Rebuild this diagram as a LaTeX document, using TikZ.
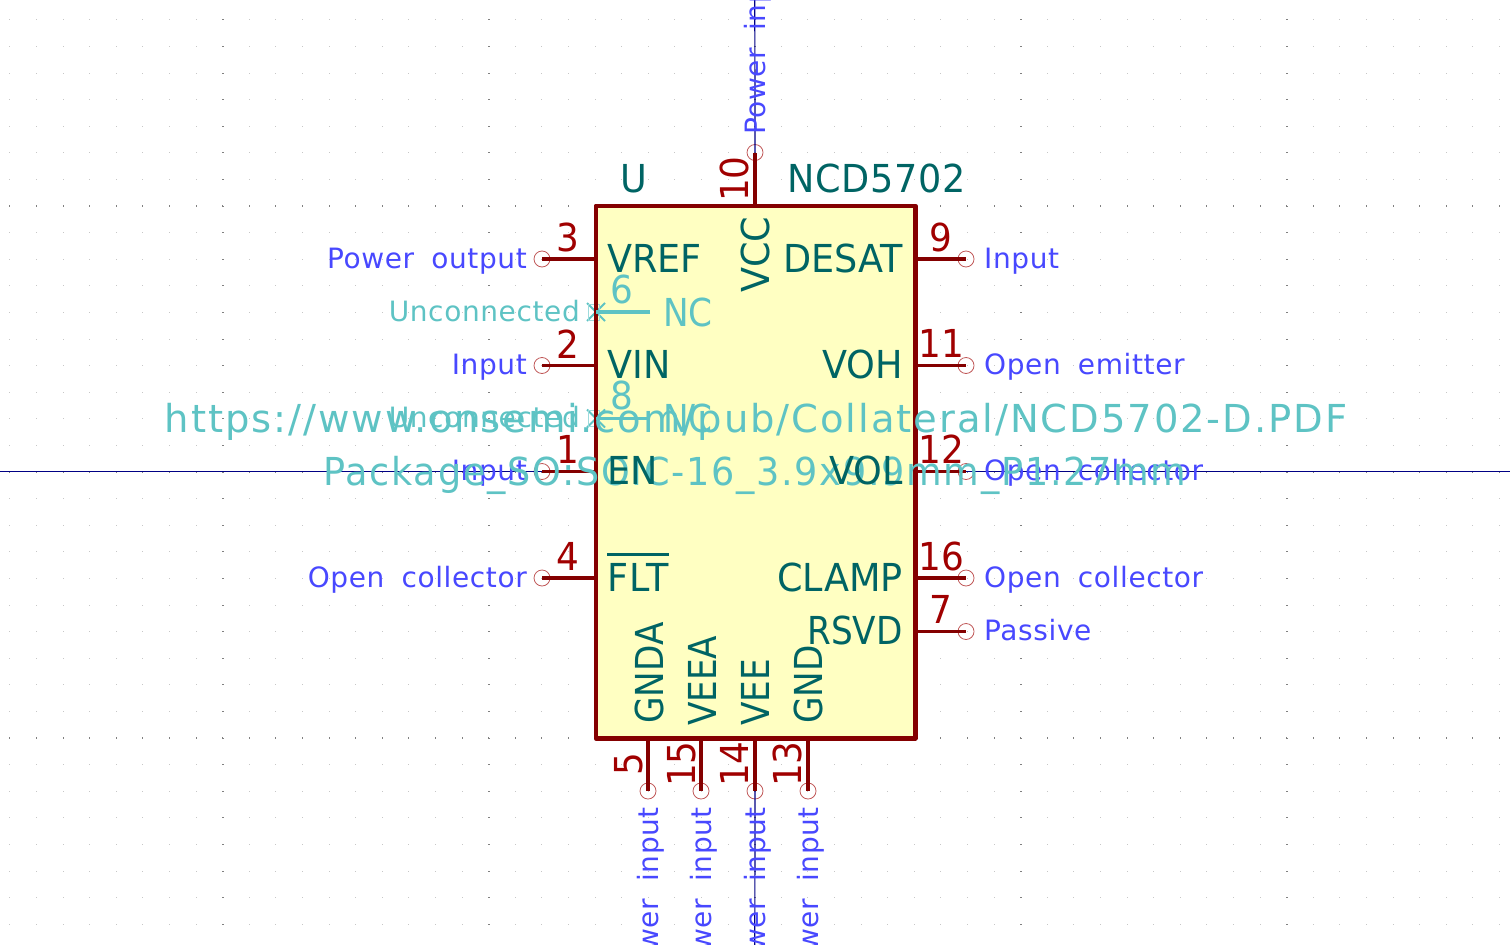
\documentclass[tikz,border=0pt]{standalone}
\usepackage{fontspec}
\setmainfont{DejaVu Sans}
\newfontfamily\namefont[FakeStretch=0.95]{DejaVu Sans}
\newfontfamily\narrowfont[FakeStretch=0.89]{DejaVu Sans}
\newfontfamily\numfont[FakeStretch=0.93]{DejaVu Sans}
\newfontfamily\typefont[LetterSpace=2.2,WordSpace=1.8]{DejaVu Sans}
\newfontfamily\urlfont[LetterSpace=5]{DejaVu Sans}
\newfontfamily\packagefont[FakeStretch=0.95,LetterSpace=4.5]{DejaVu Sans}
\definecolor{bodyred}{HTML}{840000}
\definecolor{numred}{HTML}{A00000}
\definecolor{bodyfill}{HTML}{FFFFC2}
\definecolor{nameteal}{HTML}{006464}
\definecolor{typeblue}{HTML}{4848FF}
\definecolor{hiddencyan}{HTML}{5EC3C4}
\definecolor{wirenavy}{HTML}{000084}
\definecolor{endred}{HTML}{C05858}
\tikzset{
  pinname/.style={inner sep=0, text=nameteal, font={\namefont\fontsize{38.5}{38.5}\selectfont}},
  narrowname/.style={pinname, font={\narrowfont\fontsize{38.5}{38.5}\selectfont}},
  pinnum/.style={inner sep=0, text=numred, font={\numfont\fontsize{38.5}{38.5}\selectfont}},
  pintype/.style={inner sep=0, text=typeblue, font={\typefont\fontsize{28}{28}\selectfont}},
  hiddenname/.style={narrowname, text=hiddencyan},
  hiddennum/.style={pinnum, text=hiddencyan},
  hiddentype/.style={pintype, text=hiddencyan},
  urltext/.style={inner sep=0, text=hiddencyan, font={\urlfont\fontsize{38.5}{38.5}\selectfont}},
  packagetext/.style={inner sep=0, text=hiddencyan, font={\packagefont\fontsize{38.5}{38.5}\selectfont}},
  pinline/.style={draw=bodyred, line width=3.2pt},
  hiddenline/.style={draw=hiddencyan, line width=3.2pt},
  crossline/.style={draw=hiddencyan, line width=2pt},
  wireline/.style={draw=wirenavy, line width=1.2pt},
  pinend/.style={circle, draw=endred, line width=0.8pt, minimum size=16pt, inner sep=0},
  griddot/.style={fill=black!22},
  majordot/.style={fill=black!50},
}
\begin{document}
\begin{tikzpicture}[x=1pt, y=-1pt, line join=round]
\useasboundingbox (0,0) rectangle (1510,945);
\clip (0,0) rectangle (1510,945);
\foreach \i in {0,...,56} {
  \foreach \j in {0,...,35} {
    \fill[griddot] (9.4+26.6*\i,19.4+26.6*\j) rectangle ++(1,1);
  }
}
\foreach \i in {0,...,56} {
  \foreach \j in {7,17,27} {
    \fill[majordot] (9.4+26.6*\i,18.9+26.6*\j) rectangle ++(1,2);
  }
}
\foreach \i in {8,18,28,38,48} {
  \foreach \j in {0,...,35} {
    \fill[majordot] (8.9+26.6*\i,19.4+26.6*\j) rectangle ++(2,1);
  }
}
\coordinate (wireleft) at (0,471.5);
\coordinate (wireright) at (1510,471.5);
\coordinate (wiretop) at (754.8,0);
\coordinate (wirebottom) at (754.8,945);
\node[fill=bodyfill, minimum width=319pt, minimum height=532pt, inner sep=0] (body) at (755.5,472) {};

\node[pinend] (end3) at (542,259) {};
\node[pinend] (end2) at (542,365.5) {};
\node[pinend] (end1) at (542,471.5) {};
\node[pinend] (end4) at (542,578) {};
\node[pinend] (end9) at (966,259) {};
\node[pinend] (end11) at (966,365.5) {};
\node[pinend] (end12) at (966,471.5) {};
\node[pinend] (end16) at (966,578) {};
\node[pinend] (end7) at (966,631.5) {};
\node[pinend] (end10) at (755,152.5) {};
\node[pinend] (end5) at (648,791) {};
\node[pinend] (end15) at (701,791) {};
\node[pinend] (end14) at (755,791) {};
\node[pinend] (end13) at (808,791) {};

\draw[wireline] (wireleft) -- (end1.center);
\draw[wireline] (wireright) -- (end12.center);
\draw[wireline] (wiretop) -- (end10.center);
\draw[wireline] (wirebottom) -- (end14.center);

\coordinate (nc6) at (596,312);
\coordinate (nc8) at (596,418.5);
\draw[crossline] ([shift={(-9,-9)}]nc6) -- ([shift={(9,9)}]nc6);
\draw[crossline] ([shift={(-9,9)}]nc6) -- ([shift={(9,-9)}]nc6);
\draw[crossline] ([shift={(-9,-9)}]nc8) -- ([shift={(9,9)}]nc8);
\draw[crossline] ([shift={(-9,9)}]nc8) -- ([shift={(9,-9)}]nc8);
\draw[hiddencyan!60, line width=0.7pt] ([shift={(-8,-8)}]nc6) rectangle ([shift={(3,8)}]nc6);
\draw[hiddencyan!60, line width=0.7pt] ([shift={(-8,-8)}]nc8) rectangle ([shift={(3,8)}]nc8);
\draw[bodyred, line width=4.6pt] (body.north west) rectangle (body.south east);
\draw[hiddenline] (650,312) -- (nc6);
\draw[hiddenline] (650,418.5) -- (nc8);

\draw[pinline] (body.west |- end3) -- (end3.center);
\draw[pinline] (body.west |- end2) -- (end2.center);
\draw[pinline] (body.west |- end1) -- (end1.center);
\draw[pinline] (body.west |- end4) -- (end4.center);
\draw[pinline] (body.east |- end9) -- (end9.center);
\draw[pinline] (body.east |- end11) -- (end11.center);
\draw[pinline] (body.east |- end12) -- (end12.center);
\draw[pinline] (body.east |- end16) -- (end16.center);
\draw[pinline] (body.east |- end7) -- (end7.center);
\draw[pinline] (body.north -| end10) -- (end10.center);
\draw[pinline] (body.south -| end5) -- (end5.center);
\draw[pinline] (body.south -| end15) -- (end15.center);
\draw[pinline] (body.south -| end14) -- (end14.center);
\draw[pinline] (body.south -| end13) -- (end13.center);

\node[pintype, anchor=base east] (type3) at (527,268) {Power output};
\node[pintype, anchor=base east] (type2) at (527,374.5) {Input};
\node[pintype, anchor=base east] (type1) at (527,480.5) {Input};
\node[pintype, anchor=base east] (type4) at (527,587) {Open collector};
\node[pintype, anchor=base west] (type9) at (984,268) {Input};
\node[pintype, anchor=base west] (type11) at (984,374.5) {Open emitter};
\node[pintype, anchor=base west] (type12) at (984,480.5) {Open collector};
\node[pintype, anchor=base west] (type16) at (984,587) {Open collector};
\node[pintype, anchor=base west] (type7) at (984,640.5) {Passive};
\node[pintype, anchor=base west, rotate=90] (type10) at (765,135) {Power input};
\node[pintype, anchor=base east, rotate=90] (type5) at (658,807) {Power input};
\node[pintype, anchor=base east, rotate=90] (type15) at (711,807) {Power input};
\node[pintype, anchor=base east, rotate=90] (type14) at (765,807) {Power input};
\node[pintype, anchor=base east, rotate=90] (type13) at (818,807) {Power input};

\node[pinnum, anchor=base east] (num3) at (579,251) {3};
\node[pinnum, anchor=base east] (num2) at (579,358) {2};
\node[pinnum, anchor=base east] (num1) at (579,463) {1};
\node[pinnum, anchor=base east] (num4) at (579,570) {4};
\node[pinnum, anchor=base] (num9) at (941,251) {9};
\node[pinnum, anchor=base] (num11) at (941,357) {11};
\node[pinnum, anchor=base] (num12) at (941,463) {12};
\node[pinnum, anchor=base] (num16) at (941,570) {16};
\node[pinnum, anchor=base] (num7) at (941,623) {7};
\node[pinnum, anchor=base, rotate=90] (num10) at (748,179) {10};
\node[pinnum, anchor=base, rotate=90] (num5) at (642,764) {5};
\node[pinnum, anchor=base, rotate=90] (num15) at (695,764) {15};
\node[pinnum, anchor=base, rotate=90] (num14) at (748,764) {14};
\node[pinnum, anchor=base, rotate=90] (num13) at (801,764) {13};

\node[hiddentype, anchor=base east] (type6) at (580,321) {Unconnected};
\node[hiddentype, anchor=base east] (type8) at (580,427.5) {Unconnected};
\node[hiddennum, anchor=base] (num6) at (622,303) {6};
\node[hiddennum, anchor=base] (num8) at (622,409.5) {8};
\node[hiddenname, anchor=base west] (name6) at (663,326) {NC};
\node[hiddenname, anchor=base west] (name8) at (663,432.5) {NC};

\node[urltext, anchor=base] (urlfield) at (756,432) {https://www.onsemi.com/pub/Collateral/NCD5702-D.PDF};
\node[packagetext, anchor=base] (packagefield) at (755,485) {Package\_SO:SOIC-16\_3.9x9.9mm\_P1.27mm};

\node[pinname, anchor=base west] (refname) at (620,192) {U};
\node[pinname, anchor=base west] (valuename) at (787,192) {\addfontfeature{LetterSpace=1.8}NCD5702};
\node[pinname, anchor=base west] (namevref) at (607,272) {VREF};
\node[pinname, anchor=base west] (namevin) at (607,378) {VIN};
\node[pinname, anchor=base west] (nameen) at (607,484) {EN};
\node[pinname, anchor=base west] (nameflt) at (607,591) {\addfontfeature{LetterSpace=4}FLT};
\draw[nameteal, line width=2.6pt] ([yshift=8pt]nameflt.north west) -- ([yshift=8pt]nameflt.north east);
\node[pinname, anchor=base east] (namedesat) at (903,272) {DESAT};
\node[pinname, anchor=base east] (namevoh) at (903,378) {VOH};
\node[pinname, anchor=base east] (namevol) at (903,484) {VOL};
\node[pinname, anchor=base east] (nameclamp) at (903,591) {CLAMP};
\node[narrowname, anchor=base east] (namersvd) at (903,644) {RSVD};
\node[pinname, anchor=base west, rotate=90] (namevcc) at (769,293) {VCC};
\node[narrowname, anchor=base west, rotate=90] (namegnda) at (663,724) {GNDA};
\node[narrowname, anchor=base west, rotate=90] (nameveea) at (716,726) {VEEA};
\node[narrowname, anchor=base west, rotate=90] (namevee) at (769,726) {VEE};
\node[narrowname, anchor=base west, rotate=90] (namegnd) at (822,724) {GND};
\end{tikzpicture}
\end{document}
